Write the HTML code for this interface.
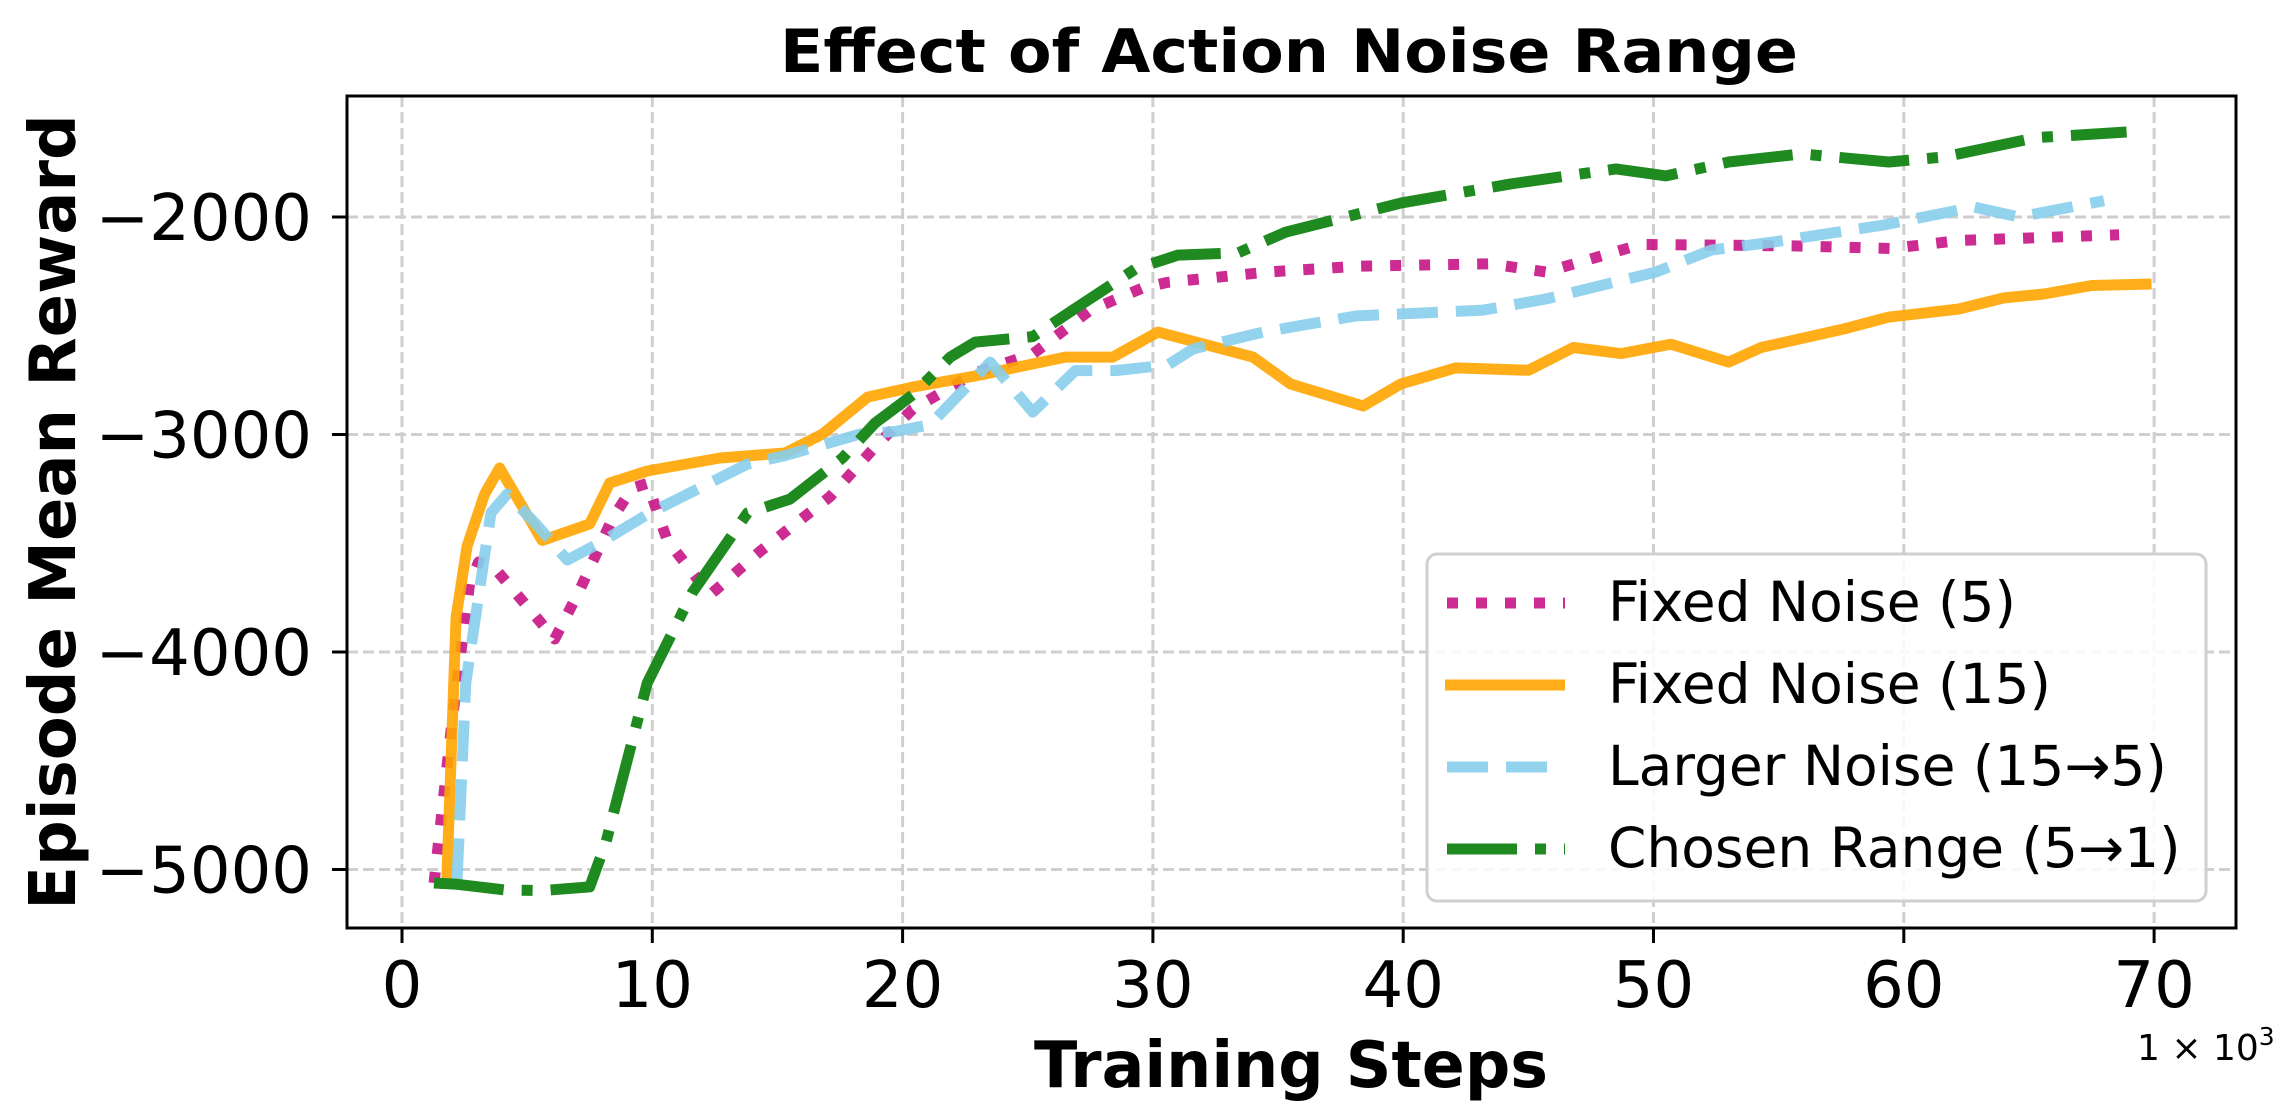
<!DOCTYPE html>
<html><head><meta charset="utf-8"><style>
html,body{margin:0;padding:0;background:#fff;}
svg{display:block;font-family:"DejaVu Sans","Liberation Sans",sans-serif;}
</style></head><body>
<svg id="chart" width="2284" height="1114" viewBox="0 0 2284 1114" xmlns="http://www.w3.org/2000/svg">
<rect x="0" y="0" width="2284" height="1114" fill="#fff"/>
<g id="grid"></g>
<g id="series"></g>
<rect x="347" y="96" width="1889" height="832" fill="none" stroke="#000" stroke-width="3"/>
<g id="ticks"></g>
<text x="1289" y="72" text-anchor="middle" font-size="60" font-weight="bold" textLength="1018" lengthAdjust="spacingAndGlyphs">Effect of Action Noise Range</text>
<text x="1291" y="1087" text-anchor="middle" font-size="64" font-weight="bold" textLength="514" lengthAdjust="spacingAndGlyphs">Training Steps</text>
<text transform="translate(75,512) rotate(-90)" text-anchor="middle" font-size="64" font-weight="bold">Episode Mean Reward</text>
<text x="2137" y="1060" font-size="36">1 × 10<tspan font-size="25" dy="-15">3</tspan></text>
<g>
<rect x="1427" y="554" width="779" height="347" rx="10" fill="#fff" fill-opacity="0.85" stroke="#d0d0d0" stroke-width="3"/>
<line x1="1447" y1="603" x2="1565" y2="603" stroke="#c71585" stroke-opacity="0.9" stroke-width="11" stroke-dasharray="11,18"/>
<text x="1608" y="621" font-size="55">Fixed Noise (5)</text>
<line x1="1445" y1="685" x2="1565" y2="685" stroke="#ffa500" stroke-opacity="0.9" stroke-width="11"/>
<text x="1608" y="703" font-size="55">Fixed Noise (15)</text>
<line x1="1447" y1="767" x2="1565" y2="767" stroke="#87ceeb" stroke-opacity="0.9" stroke-width="11" stroke-dasharray="41,18"/>
<text x="1608" y="785" font-size="55">Larger Noise (15→5)</text>
<line x1="1447" y1="849" x2="1565" y2="849" stroke="#1f8a1f" stroke-width="11" stroke-dasharray="70,18,11,18"/>
<text x="1608" y="867" font-size="55">Chosen Range (5→1)</text>
</g>
</svg>
<script>
const xTicks = [0,10,20,30,40,50,60,70];
const yTicks = [-2000,-3000,-4000,-5000];
const yTickLabels = ["−2000","−3000","−4000","−5000"];
const pinkX = [1.28,2.0,2.7,3.06,3.7,6.1,7.1,8.4,9.2,9.8,10.6,12.3,14.3,17.1,18.9,20.4,22.9,25.2,27.5,29.6,30.6,34.6,38.2,43.5,45.7,49.5,55.6,59.5,62.2,68.6];
const pinkY = [-5062,-4317,-3687,-3586,-3614,-3940,-3715,-3387,-3246,-3225,-3487,-3738,-3538,-3286,-3057,-2884,-2717,-2630,-2428,-2326,-2300,-2253,-2226,-2215,-2253,-2126,-2133,-2145,-2108,-2082];
const orangeX = [1.79,2.16,2.6,3.3,3.9,5.6,7.5,8.3,9.8,12.7,15.3,16.8,18.6,20.4,22.9,26.5,28.4,30.2,34.0,35.5,38.4,39.9,42.1,45.0,46.8,48.7,50.7,53.0,54.3,57.6,59.4,62.2,64.0,65.6,67.5,69.9];
const orangeY = [-5045,-3839,-3513,-3274,-3154,-3487,-3411,-3223,-3168,-3108,-3085,-2998,-2828,-2782,-2731,-2644,-2644,-2529,-2644,-2768,-2869,-2768,-2694,-2705,-2600,-2628,-2585,-2667,-2600,-2515,-2460,-2423,-2372,-2354,-2315,-2308];
const blueX = [2.2,2.55,3.55,4.2,5.35,6.6,7.9,9.9,13.8,15.3,18.3,19.7,21.1,23.5,25.2,26.9,28.5,30.6,31.6,34.4,38.1,43.2,45.7,50.1,52.3,54.8,59.2,62.8,64.6,68.0];
const blueY = [-5045,-4142,-3361,-3274,-3411,-3577,-3499,-3361,-3136,-3097,-2998,-2986,-2955,-2667,-2897,-2706,-2706,-2680,-2607,-2529,-2455,-2428,-2377,-2253,-2152,-2115,-2037,-1954,-2000,-1925];
const greenX = [1.28,2.2,4.1,5.6,7.5,8.15,9.8,11.6,13.8,15.5,17.6,18.9,20.4,21.9,22.9,25.2,26.8,29.3,31.0,33.4,35.3,39.9,44.3,48.5,50.5,53.0,55.9,59.4,61.6,65.3,68.9];
const greenY = [-5062,-5068,-5094,-5097,-5080,-4874,-4142,-3727,-3361,-3297,-3108,-2947,-2818,-2644,-2575,-2550,-2428,-2239,-2175,-2165,-2070,-1936,-1848,-1779,-1811,-1747,-1710,-1747,-1724,-1635,-1609];

const NS = "http://www.w3.org/2000/svg";
const X0 = 402, XS = 25.03;
const Y0 = 217, YS = 0.2175;
function sx(v){ return X0 + v*XS; }
function sy(v){ return Y0 + (-2000 - v)*YS; }
function mk(tag, attrs){ const e = document.createElementNS(NS, tag); for (const k in attrs) e.setAttribute(k, attrs[k]); return e; }

const grid = document.getElementById('grid');
const ticks = document.getElementById('ticks');
xTicks.forEach(t => {
  const gl = mk('line', {x1:sx(t), x2:sx(t), y1:96, y2:928, stroke:'#cfcfcf', 'stroke-width':3, 'stroke-dasharray':'11,5'});
  
  
  grid.appendChild(gl);
  const tk = mk('line', {x1:sx(t), x2:sx(t), y1:928, y2:943, stroke:'#000', 'stroke-width':3});
  
  
  ticks.appendChild(tk);
  const lb = mk('text', {x:sx(t), y:1007, 'text-anchor':'middle', 'font-size':64});
  
  
  lb.textContent = String(t);
  ticks.appendChild(lb);
});
yTicks.forEach((t,i) => {
  const gl = mk('line', {x1:347, x2:2236, y1:sy(t), y2:sy(t), stroke:'#cfcfcf', 'stroke-width':3, 'stroke-dasharray':'11,5'});
  
  
  grid.appendChild(gl);
  const tk = mk('line', {x1:332, x2:347, y1:sy(t), y2:sy(t), stroke:'#000', 'stroke-width':3});
  
  
  ticks.appendChild(tk);
  const lb = mk('text', {x:312, y:sy(t)+23, 'text-anchor':'end', 'font-size':64});
  
  
  lb.textContent = yTickLabels[i];
  ticks.appendChild(lb);
});

const series = document.getElementById('series');
function drawLine(xs, ys, color, dash, name, op){
  const d = xs.map((x,i)=>(i?'L':'M')+sx(x).toFixed(1)+','+sy(ys[i]).toFixed(1)).join(' ');
  const p = mk('path', {d:d, fill:'none', stroke:color, 'stroke-opacity':op, 'stroke-width':11, 'stroke-linejoin':'round'});
  if (dash) p.setAttribute('stroke-dasharray', dash);
  
  
  series.appendChild(p);
}
drawLine(pinkX, pinkY, '#c71585', '11,18', 'line-fixed-noise-5', 0.9);
drawLine(orangeX, orangeY, '#ffa500', null, 'line-fixed-noise-15', 0.9);
drawLine(blueX, blueY, '#87ceeb', '41,18', 'line-larger-noise', 0.9);
drawLine(greenX, greenY, '#1f8a1f', '70,18,11,18', 'line-chosen-range', 1);
</script>
</body></html>
